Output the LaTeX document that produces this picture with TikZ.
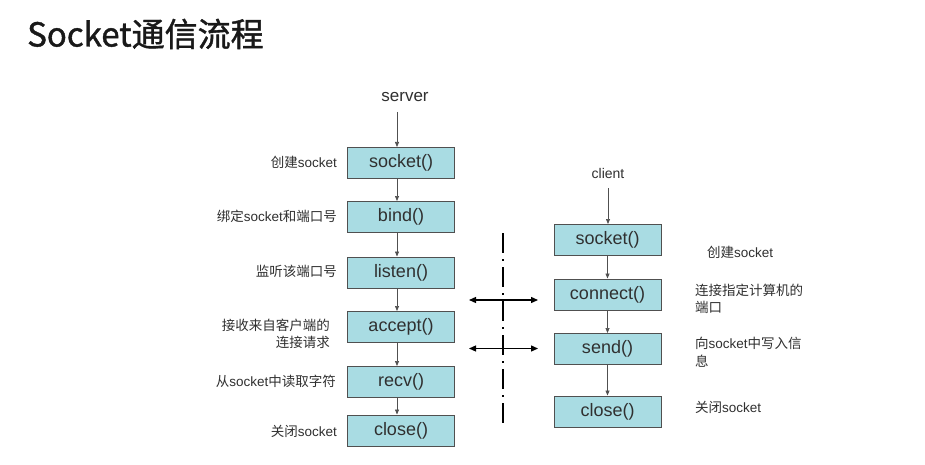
\documentclass[tikz,border=0pt]{standalone}
\usepackage{fontspec}
\setmainfont{Liberation Sans}
\newfontfamily\cjk{Noto Sans CJK SC}
\newfontfamily\cjktitle[FakeBold=1.2]{Noto Sans CJK SC}
\usetikzlibrary{arrows.meta}
\definecolor{boxfill}{HTML}{A9DCE3}
\definecolor{boxline}{HTML}{505050}
\definecolor{txt}{HTML}{303030}
\begin{document}
\begin{tikzpicture}[x=1pt,y=-1pt,
  fnbox/.style={draw=boxline, line width=1pt, fill=boxfill, minimum width=107pt, minimum height=31pt, inner sep=0pt, font=\fontsize{18}{20}\selectfont, text=txt},
  flow/.style={draw=boxline, line width=0.7pt, -{Triangle[length=5pt,width=4pt]}},
  dbl/.style={draw=black, line width=1.3pt, {Triangle[length=7pt,width=6pt]}-{Triangle[length=7pt,width=6pt]}},
  lbl/.style={font=\fontsize{13.5}{17}\selectfont, text=txt, inner sep=0pt, align=right},
  rlbl/.style={font=\fontsize{13.5}{17.5}\selectfont, text=txt, inner sep=0pt, align=left, anchor=west},
  sep/.style={draw=black, line width=1.4pt, dash pattern=on 20pt off 6pt on 2pt off 6pt}
]
\useasboundingbox[fill=white] (0,0) rectangle (925,465);

% title
\node[anchor=west, inner sep=0pt, font=\cjktitle\fontsize{33}{35}\selectfont, text=black!90] (title) at (27,34) {Socket通信流程};

% server
\node[font=\fontsize{17}{19}\selectfont, text=txt, inner sep=0pt] (server) at (405,97) {server};
\coordinate (stop) at (397,112);
\node[fnbox] (s1) at (401,163) {socket()};
\node[fnbox] (s2) at (401,217) {bind()};
\node[fnbox] (s3) at (401,272.5) {listen()};
\node[fnbox] (s4) at (401,327) {accept()};
\node[fnbox] (s5) at (401,382) {recv()};
\node[fnbox] (s6) at (401,430.5) {close()};
\draw[flow] (stop) -- (stop |- s1.north);
\foreach \a/\b in {s1/s2,s2/s3,s3/s4,s4/s5,s5/s6}
  \draw[flow] ([xshift=-4pt]\a.south) -- ([xshift=-4pt]\b.north);

% server labels
\node[lbl, anchor=east] (l1) at (337,162) {{\cjk 创建}socket};
\node[lbl, anchor=east] (l2) at (337,216) {{\cjk 绑定}socket{\cjk 和端口号}};
\node[lbl, anchor=east] (l3) at (337,271) {\cjk 监听该端口号};
\node[lbl, anchor=east] (l4) at (330,334) {\cjk 接收来自客户端的\\\cjk 连接请求};
\node[lbl, anchor=east] (l5) at (336,381) {{\cjk 从}socket{\cjk 中读取字符}};
\node[lbl, anchor=east] (l6) at (337,431) {{\cjk 关闭}socket};

% client
\node[font=\fontsize{14}{16}\selectfont, text=txt, inner sep=0pt] (client) at (608,173) {client};
\coordinate (ctop) at (608,188);
\node[fnbox] (c1) at (607.5,240) {socket()};
\node[fnbox] (c2) at (607.5,294.5) {connect()};
\node[fnbox] (c3) at (607.5,349) {send()};
\node[fnbox] (c4) at (607.5,411.5) {close()};
\draw[flow] (ctop) -- (ctop |- c1.north);
\foreach \a/\b in {c1/c2,c2/c3,c3/c4}
  \draw[flow] (\a.south) -- (\b.north);

% client labels
\node[rlbl] (r1) at (707,252) {{\cjk 创建}socket};
\node[rlbl] (r2) at (695,299) {\cjk 连接指定计算机的\\\cjk 端口};
\node[rlbl] (r3) at (695,352) {{\cjk 向}socket{\cjk 中写入信}\\\cjk 息};
\node[rlbl] (r4) at (695,407) {{\cjk 关闭}socket};

% separator
\coordinate (sepa) at (503,233);
\coordinate (sepb) at (503,428);
\draw[sep] (sepa) -- (sepb);

% double arrows
\coordinate (d1a) at (469,300);
\coordinate (d1b) at (538,300);
\coordinate (d2a) at (469,348.5);
\coordinate (d2b) at (538,348.5);
\draw[dbl] (d1a) -- (d1b);
\draw[dbl] (d2a) -- (d2b);
\end{tikzpicture}
\end{document}
